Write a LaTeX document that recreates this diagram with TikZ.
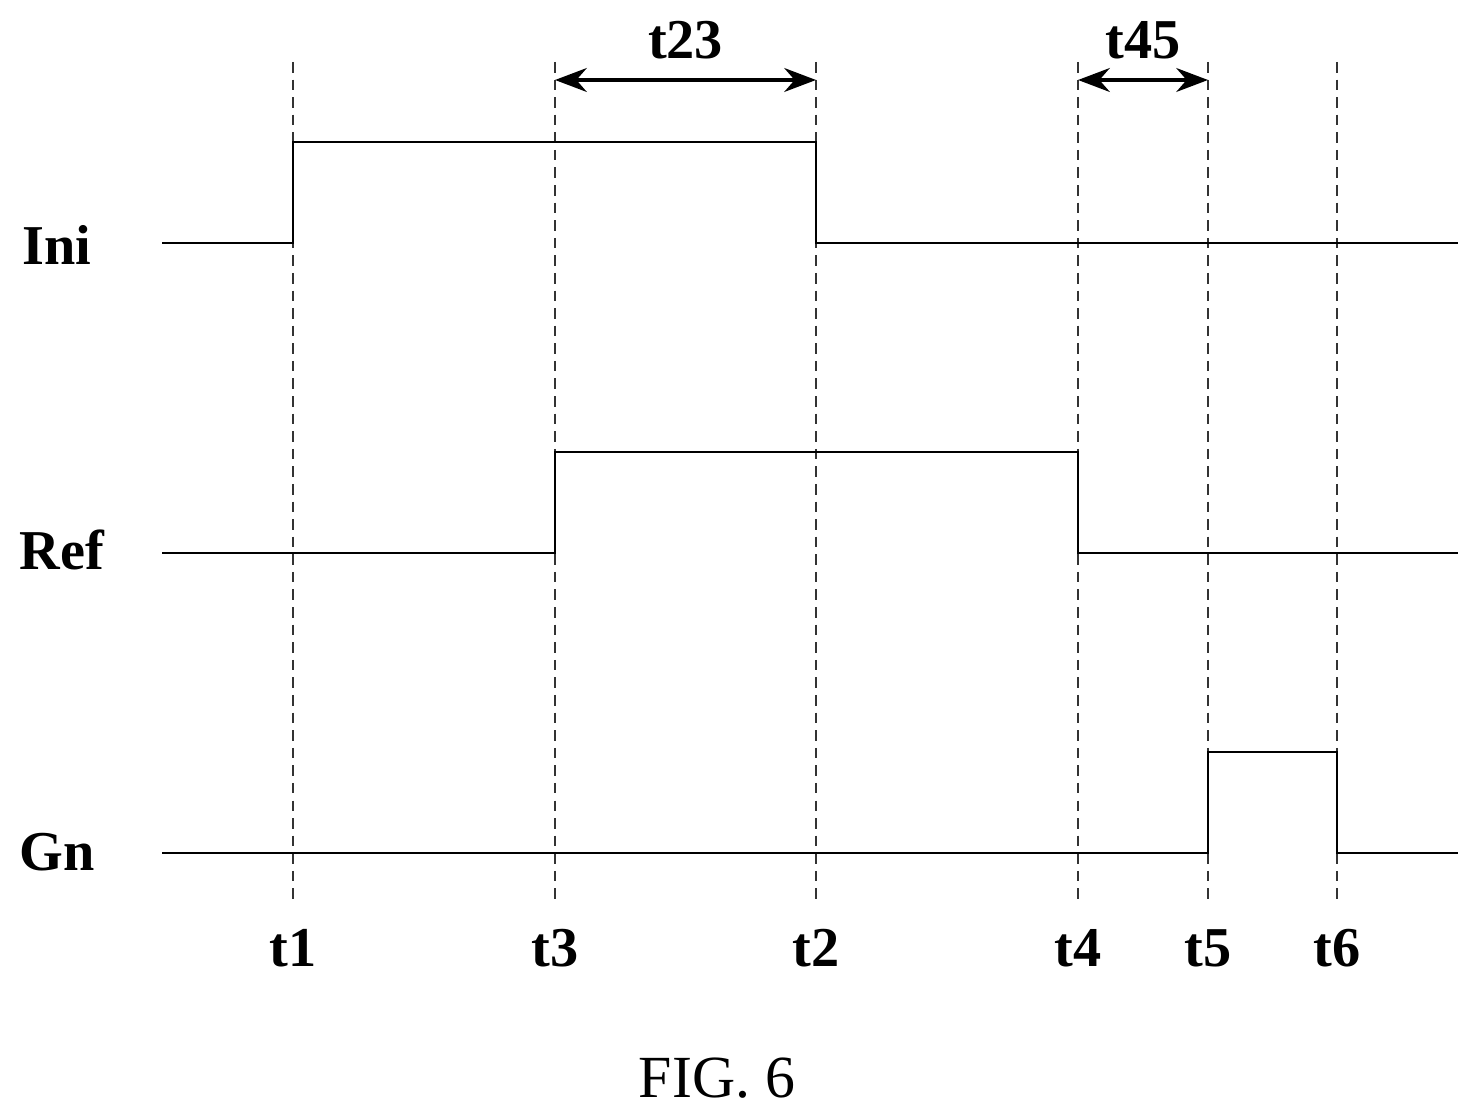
\documentclass[tikz,border=0pt]{standalone}
\usepackage{fontspec}
\setmainfont{Liberation Serif}
\usetikzlibrary{arrows.meta,positioning}
\begin{document}
\begin{tikzpicture}[
    x=0.01cm,y=-0.01cm,
    lbl/.style={font=\fontsize{16}{18}\selectfont\bfseries},
    guide/.style={densely dashed,thin,black!80},
    wave/.style={thin,black},
    span/.style={{Stealth[length=9pt]}-{Stealth[length=9pt]},very thick}
]
\useasboundingbox (0,0) rectangle (1480,1116);
% time markers
\foreach \x/\t in {293/t1,555/t3,816/t2,1078/t4,1208/t5,1337/t6}{
  \draw[guide] (\x,62) -- (\x,905);
  \node[lbl] (\t) at (\x,948) {\t};
}
% signal names
\node[lbl] (ini) at (57,245) {Ini};
\node[lbl] (ref) at (62,550) {Ref};
\node[lbl] (gn) at (57,852) {Gn};
% waveforms
\draw[wave] (162,243) -- (293,243) -- (293,142) -- (816,142) -- (816,243) -- (1458,243);
\draw[wave] (162,553) -- (555,553) -- (555,452) -- (1078,452) -- (1078,553) -- (1458,553);
\draw[wave] (162,853) -- (1208,853) -- (1208,752) -- (1337,752) -- (1337,853) -- (1458,853);
% intervals
\coordinate (a3) at (555,80);
\coordinate (a2) at (816,80);
\coordinate (a4) at (1078,80);
\coordinate (a5) at (1208,80);
\draw[span] (a3) -- node[lbl,above=2pt] (t23) {t23} (a2);
\draw[span] (a4) -- node[lbl,above=2pt] (t45) {t45} (a5);
% caption
\node[font=\fontsize{17}{20}\selectfont] (fig) at (717,1078) {FIG. 6};
\end{tikzpicture}
\end{document}
